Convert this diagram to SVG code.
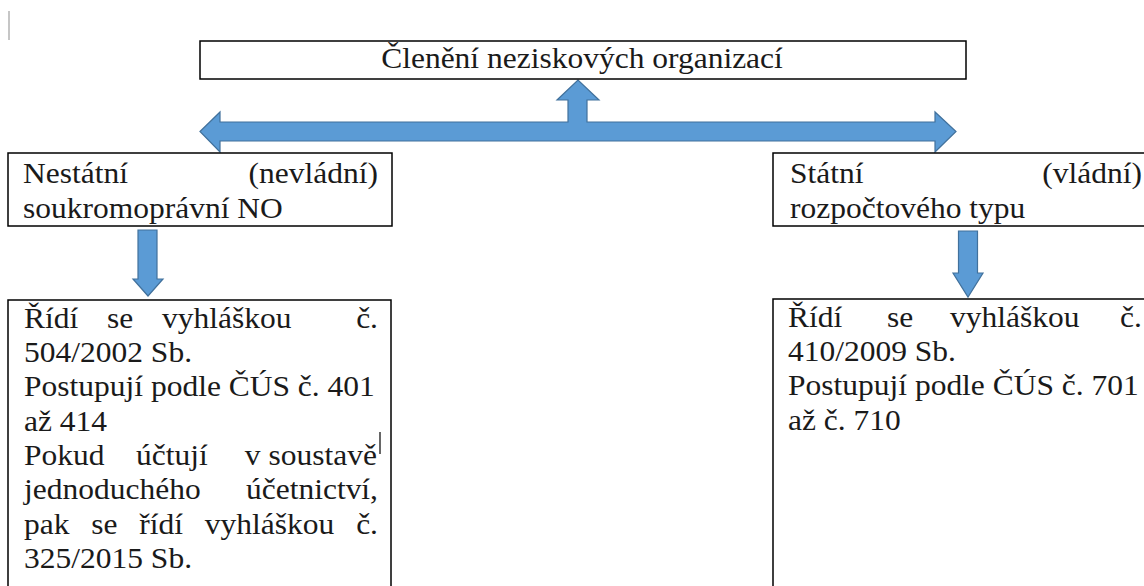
<svg xmlns="http://www.w3.org/2000/svg" width="1144" height="586" viewBox="0 0 1144 586">
<style>
.box{fill:#fff;stroke:#000;stroke-width:1.5}
.arr{fill:#5B9BD5;stroke:#41719C;stroke-width:1.2;stroke-linejoin:miter}
text{font-family:'Liberation Serif','Times New Roman',serif;font-size:30px;fill:#1a1a1a}
.e{text-anchor:end}
.m{text-anchor:middle}
</style>
<rect width="1144" height="586" fill="#fff"/>
<line x1="9" y1="11" x2="9" y2="40" stroke="#a0a0a0" stroke-width="1.2"/>
<g id="connectors">
<path class="arr" d="M200,131.5 L220,112 L220,122 L568,122 L568,100 L557,100 L578,80 L599,100 L587,100 L587,122 L935,122 L935,112 L956,131.5 L935,152 L935,141 L220,141 L220,152 Z"/>
<path class="arr" d="M138,230 L157,230 L157,279 L163,279 L148,296 L133,279 L138,279 Z"/>
<path class="arr" d="M958.5,231 L977.5,231 L977.5,273 L983,273 L968,297 L953,273 L958.5,273 Z"/>
</g>
<g id="n-top">
<rect class="box" x="200" y="41" width="766" height="38"/>
<text class="m" transform="scale(1.05,1)" x="554.3" y="68">Členění neziskových organizací</text>
</g>
<g id="n-left">
<rect class="box" x="8" y="153" width="384" height="73"/>
<g transform="scale(1.05,1)">
<text x="21.9" y="183">Nestátní</text>
<text class="e" x="360" y="183">(nevládní)</text>
<text x="21.9" y="218">soukromoprávní NO</text>
</g>
</g>
<g id="n-right">
<rect class="box" x="773" y="153" width="380" height="73"/>
<g transform="scale(1.05,1)">
<text x="752.4" y="183">Státní</text>
<text class="e" x="1087.6" y="183">(vládní)</text>
<text x="752.4" y="218">rozpočtového typu</text>
</g>
</g>
<g id="n-left-detail">
<rect class="box" x="8" y="300" width="383" height="300"/>
<g transform="scale(1.05,1)">
<text x="22.9" y="328">Řídí</text>
<text x="101.9" y="328">se</text>
<text x="154.3" y="328">vyhláškou</text>
<text class="e" x="360" y="328">č.</text>
<text x="22.9" y="362">504/2002 Sb.</text>
<text x="22.9" y="396.5">Postupují podle ČÚS č. 401</text>
<text x="22.9" y="431">až 414</text>
<text x="22.9" y="465">Pokud</text>
<text x="129.5" y="465">účtují</text>
<text class="e" x="359" y="465">v soustavě</text>
<text x="22.9" y="499">jednoduchého</text>
<text class="e" x="360" y="499">účetnictví,</text>
<text x="22.9" y="534">pak</text>
<text x="87" y="534">se</text>
<text x="132.7" y="534">řídí</text>
<text x="195" y="534">vyhláškou</text>
<text class="e" x="360" y="534">č.</text>
<text x="22.9" y="568">325/2015 Sb.</text>
</g>
<line x1="380" y1="432" x2="380" y2="454" stroke="#000" stroke-width="1.2"/>
</g>
<g id="n-right-detail">
<rect class="box" x="773" y="299" width="380" height="300"/>
<g transform="scale(1.05,1)">
<text x="750.5" y="327">Řídí</text>
<text x="844.8" y="327">se</text>
<text x="904.8" y="327">vyhláškou</text>
<text class="e" x="1087.6" y="327">č.</text>
<text x="750.5" y="361">410/2009 Sb.</text>
<text x="750.5" y="395.5">Postupují podle ČÚS č. 701</text>
<text x="750.5" y="430">až č. 710</text>
</g>
</g>
</svg>
